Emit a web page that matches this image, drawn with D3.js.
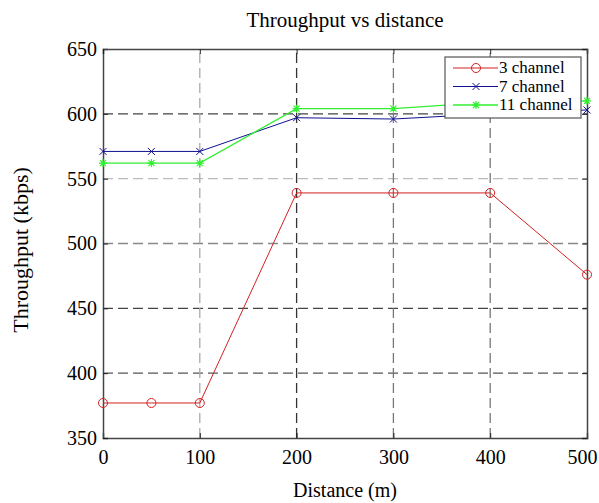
<!DOCTYPE html>
<html><head><meta charset="utf-8">
<script src="https://cdn.jsdelivr.net/npm/d3@7"></script>
<style>body{margin:0;background:#fff}svg{display:block}svg text{font-family:"Liberation Serif","Times New Roman",serif !important;fill:#000}</style>
</head><body>
<script>
const distances = [0, 50, 100, 200, 300, 400, 500];
const ch3 = [377, 377, 377, 539, 539, 539, 476];
const ch7 = [571, 571, 571, 597, 596, 600, 603];
const ch11 = [562, 562, 562, 604, 604, 609, 610];
const seriesNames = ["3 channel", "7 channel", "11 channel"];
const xTicks = [0, 100, 200, 300, 400, 500];
const yTicks = [350, 400, 450, 500, 550, 600, 650];

const W = 599, H = 503;
const FONT = "Liberation Serif, Times New Roman, serif";
const m = {l: 103, t: 49, r: 599 - 587, b: 503 - 438};
const svg = d3.select("body").append("svg").attr("width", W).attr("height", H).attr("font-family", FONT);
const x = d3.scaleLinear().domain([0, 500]).range([m.l, W - m.r]);
const y = d3.scaleLinear().domain([350, 650]).range([H - m.b, m.t]);

// grid
const hGridColor = {400: "#555", 450: "#444", 500: "#888", 550: "#bbb", 600: "#444"};
const vGridColor = {100: "#aaa", 200: "#333", 300: "#777", 400: "#777"};
svg.append("g").selectAll("line").data(yTicks.filter(v => v > 350 && v < 650)).join("line")
  .attr("x1", x(0)).attr("x2", x(500)).attr("y1", d => y(d)).attr("y2", d => y(d))
  .attr("stroke", d => hGridColor[d] || "#777").attr("stroke-width", 1.3).attr("stroke-dasharray", "10,5");
svg.append("g").selectAll("line").data(xTicks.filter(v => v > 0 && v < 500)).join("line")
  .attr("y1", y(350)).attr("y2", y(650)).attr("x1", d => x(d)).attr("x2", d => x(d))
  .attr("stroke", d => vGridColor[d] || "#777").attr("stroke-width", 1.3).attr("stroke-dasharray", "10,5");

// axes
const ax = svg.append("g").attr("transform", `translate(0,${y(350)})`)
  .call(d3.axisBottom(x).tickValues(xTicks).tickSize(-5).tickPadding(12));
ax.selectAll(".tick text").filter(d => d === 500).attr("dx", -5);
const ay = svg.append("g").attr("transform", `translate(${x(0)},0)`)
  .call(d3.axisLeft(y).tickValues(yTicks).tickSize(-5).tickPadding(6));
svg.append("g").attr("transform", `translate(0,${y(650)})`)
  .call(d3.axisTop(x).tickValues(xTicks).tickSize(-5).tickFormat(""));
svg.append("g").attr("transform", `translate(${x(500)},0)`)
  .call(d3.axisRight(y).tickValues(yTicks).tickSize(-5).tickFormat(""));
svg.selectAll("g").attr("font-family", FONT);
svg.selectAll(".domain").attr("stroke", "#444").attr("stroke-width", 1.5);
svg.selectAll(".tick line").attr("stroke", "#222");
svg.selectAll(".tick text").attr("font-size", 20).attr("font-family", FONT).attr("fill", "#000");

// series
const series = [
  {name: seriesNames[0], vals: ch3, color: "#d42020", marker: "circle", width: 1},
  {name: seriesNames[1], vals: ch7, color: "#101090", marker: "x", width: 1},
  {name: seriesNames[2], vals: ch11, color: "#30f030", marker: "star", width: 1.3}
];
const line = d3.line().x((d, i) => x(distances[i])).y(d => y(d));
function drawMarker(g, cx, cy, type, color) {
  if (type === "circle") {
    g.append("circle").attr("cx", cx).attr("cy", cy).attr("r", 4.5).attr("fill", "none").attr("stroke", color).attr("stroke-width", 1);
  } else if (type === "x") {
    const s = 3.5;
    g.append("path").attr("d", `M${cx-s},${cy-s}L${cx+s},${cy+s}M${cx-s},${cy+s}L${cx+s},${cy-s}`).attr("stroke", color).attr("stroke-width", 1);
  } else {
    const s = 4;
    g.append("path").attr("d", `M${cx-s},${cy}L${cx+s},${cy}M${cx},${cy-s}L${cx},${cy+s}M${cx-3},${cy-3}L${cx+3},${cy+3}M${cx-3},${cy+3}L${cx+3},${cy-3}`).attr("stroke", color).attr("stroke-width", 1.2);
  }
}
series.forEach(s => {
  const g = svg.append("g");
  g.append("path").datum(s.vals).attr("d", line).attr("fill", "none").attr("stroke", s.color).attr("stroke-width", s.width);
  s.vals.forEach((v, i) => drawMarker(g, x(distances[i]), y(v), s.marker, s.color));
});

// legend
const lg = svg.append("g");
lg.append("rect").attr("x", 445).attr("y", 57).attr("width", 136).attr("height", 61)
  .attr("fill", "#fff").attr("stroke", "#555").attr("stroke-width", 1.2);
series.forEach((s, i) => {
  const cy = 68 + i * 18.5;
  lg.append("line").attr("x1", 453).attr("x2", 498).attr("y1", cy).attr("y2", cy).attr("stroke", s.color).attr("stroke-width", s.width);
  drawMarker(lg, 476, cy, s.marker, s.color);
  lg.append("text").attr("x", 499).attr("y", cy + 5).attr("font-size", 17).text(s.name);
});

// titles
svg.append("text").attr("x", 345).attr("y", 27).attr("text-anchor", "middle").attr("font-size", 21).text("Throughput vs distance");
svg.append("text").attr("x", 345).attr("y", 497).attr("text-anchor", "middle").attr("font-size", 20).text("Distance (m)");
svg.append("text").attr("transform", "translate(28,250) rotate(-90)").attr("text-anchor", "middle").attr("font-size", 22).text("Throughput (kbps)");
</script>
</body></html>
